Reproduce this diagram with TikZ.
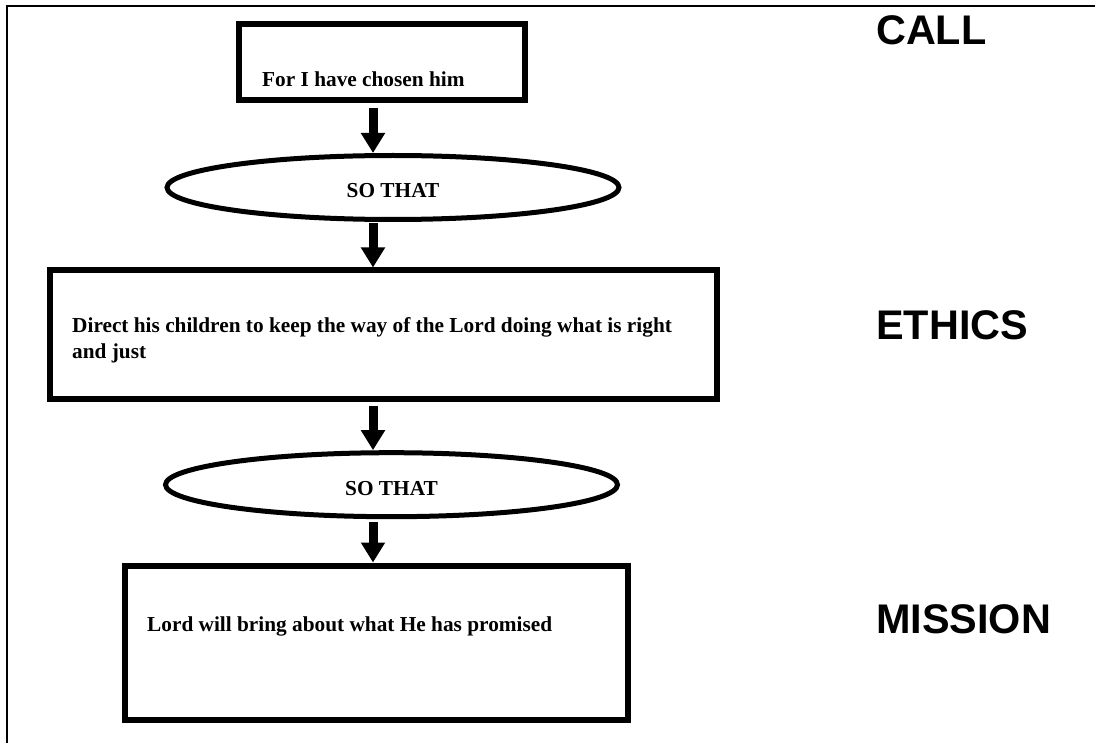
\documentclass[tikz,border=0pt]{standalone}
\usepackage{fontspec}
\setmainfont{Liberation Serif}
\newfontfamily\labelfont{Liberation Sans}
\usetikzlibrary{arrows.meta,shapes.geometric,calc}
\begin{document}
\begin{tikzpicture}[x=1pt,y=-1pt,
  boxstyle/.style={draw, line width=6pt, rectangle, inner sep=0pt},
  ovalstyle/.style={draw, line width=5pt, ellipse, inner sep=0pt, text height=21pt, text depth=0pt,
    font=\fontsize{21.3}{26}\selectfont\bfseries},
  bodytext/.style={anchor=base west, inner sep=0pt, font=\fontsize{21.3}{26}\selectfont\bfseries},
  sidelabel/.style={anchor=base west, inner sep=0pt, font=\labelfont\fontsize{41.4}{48}\selectfont\bfseries},
  flow/.style={line width=9pt, -{Triangle[width=23pt,length=20pt]}},
  framestyle/.style={line width=2.5pt}
]
\useasboundingbox (0,0) rectangle (1095,743);
% frame (top and left edges)
\coordinate (fbl) at (7,743);
\coordinate (ftl) at (7,6);
\coordinate (ftr) at (1095,6);
\draw[framestyle] (fbl) -- (ftl) -- (ftr);

% boxes and ovals
\node[boxstyle, minimum width=286.5pt, minimum height=76pt] (b1) at (381.75,62.5) {};
\node[ovalstyle, minimum width=452pt, minimum height=64pt] (e1) at (393,187.5) {SO THAT};
\node[boxstyle, minimum width=666.5pt, minimum height=128pt] (b2) at (383.25,334.5) {};
\node[ovalstyle, minimum width=452pt, minimum height=64pt] (e2) at (391.5,484.7) {SO THAT};
\node[boxstyle, minimum width=503pt, minimum height=154.5pt] (b3) at (376.5,642.75) {};

% texts
\node[bodytext] (t1) at (262,87) {For I have chosen him};
\node[bodytext] (t2a) at (72,332) {Direct his children to keep the way of the Lord doing what is right};
\node[bodytext] (t2b) at (72,358) {and just};
\node[bodytext] (t3) at (147,631) {Lord will bring about what He has promised};

% side labels
\node[sidelabel] (l1) at (876,45) {CALL};
\node[sidelabel] (l2) at (876,339) {ETHICS};
\node[sidelabel] (l3) at (876,633) {MISSION};

% arrows
\coordinate (ax) at (373,0);
\draw[flow] ($(b1.south -| ax)+(0,5)$) -- (e1.north -| ax);
\draw[flow] ($(e1.south -| ax)+(0,1)$) -- (b2.north -| ax);
\draw[flow] ($(b2.south -| ax)+(0,4)$) -- (e2.north -| ax);
\draw[flow] ($(e2.south -| ax)+(0,3)$) -- (b3.north -| ax);
\end{tikzpicture}
\end{document}
